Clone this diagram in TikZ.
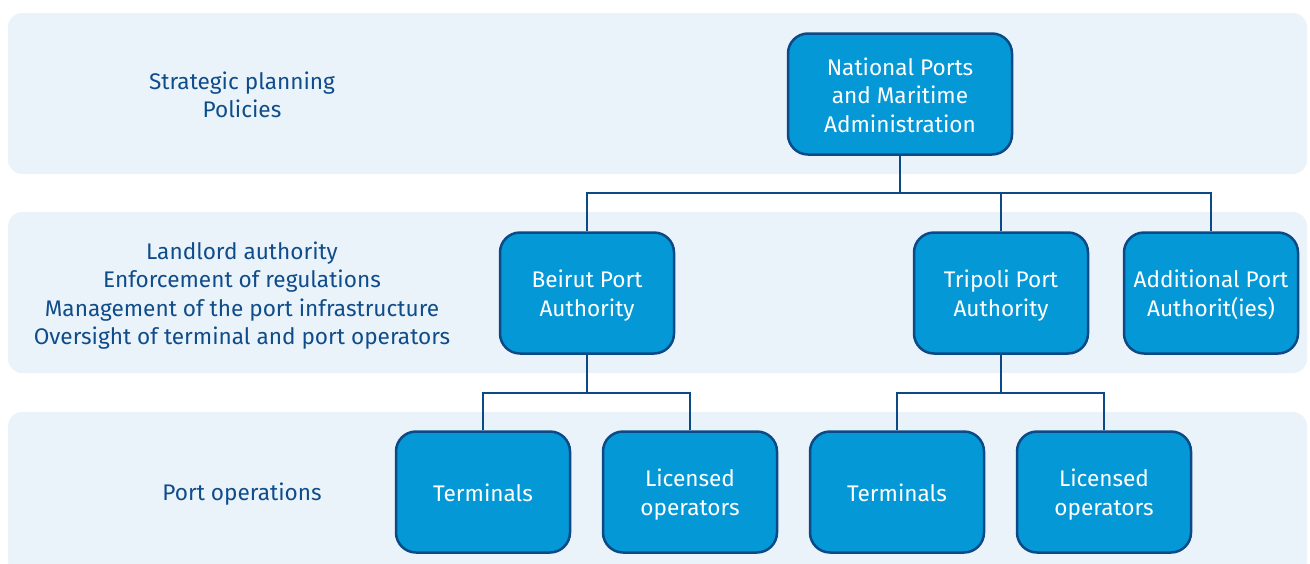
\documentclass[tikz,border=0pt]{standalone}
\usepackage{fontspec}
\setmainfont{Fira Sans}
\definecolor{band}{HTML}{EBF3FA}
\definecolor{boxfill}{HTML}{0598D6}
\definecolor{boxline}{HTML}{0B4A86}
\definecolor{txt}{HTML}{0F4C8A}
\begin{document}
\begin{tikzpicture}[x=1pt,y=-1pt,
  orgbox/.style={draw=boxline, fill=boxfill, line width=2.5pt, rounded corners=20pt,
    minimum width=174pt, minimum height=121pt, inner sep=0pt},
  btxt/.style={align=center, text=white, yshift=-2.2pt,
    font=\fontsize{22.6}{28.8}\selectfont, inner sep=0pt},
  lbl/.style={align=center, text=txt, font=\fontsize{22.6}{28.6}\selectfont},
  conn/.style={draw=boxline, line width=2.5pt}]
\useasboundingbox (0,0) rectangle (1310,563);
\begin{scope}
\clip (0,0) rectangle (1310,563);
\fill[band, rounded corners=14pt] (8,13) rectangle (1307,174);
\fill[band, rounded corners=14pt] (8,212) rectangle (1307,373);
\fill[band, rounded corners=14pt] (8,412) rectangle (1307,575);
\end{scope}
\node[lbl] (l1) at (242,95) {Strategic planning\\Policies};
\node[lbl] (l2) at (242,295.5) {Landlord authority\\Enforcement of regulations\\Management of the port infrastructure\\Oversight of terminal and port operators};
\node[lbl] (l3) at (242,494.5) {Port operations};
\node[orgbox, minimum width=224pt, label={[btxt, yshift=1pt]center:{National Ports\\and Maritime\\Administration}}] (npa) at (900,94) {};
\node[orgbox, label={[btxt]center:{Beirut Port\\Authority}}] (bpa) at (587,293) {};
\node[orgbox, label={[btxt]center:{Tripoli Port\\Authority}}] (tpa) at (1001,293) {};
\node[orgbox, label={[btxt]center:{Additional Port\\Authorit(ies)}}] (apa) at (1211,293) {};
\node[orgbox, label={[btxt, yshift=1pt]center:{Terminals}}] (t1) at (483,492) {};
\node[orgbox, label={[btxt]center:{Licensed\\operators}}] (o1) at (690,492) {};
\node[orgbox, label={[btxt, yshift=1pt]center:{Terminals}}] (t2) at (897,492) {};
\node[orgbox, label={[btxt]center:{Licensed\\operators}}] (o2) at (1104,492) {};
\coordinate (j1) at (900,193);
\coordinate (j2) at (587,393);
\coordinate (j3) at (1001,393);
\draw[conn] (npa.south) -- (j1);
\draw[conn] (bpa.north) |- (j1) -| (apa.north);
\draw[conn] (j1 -| tpa.north) -- (tpa.north);
\draw[conn] (bpa.south) -- (j2);
\draw[conn] (t1.north) |- (j2) -| (o1.north);
\draw[conn] (tpa.south) -- (j3);
\draw[conn] (t2.north) |- (j3) -| (o2.north);
\end{tikzpicture}
\end{document}
